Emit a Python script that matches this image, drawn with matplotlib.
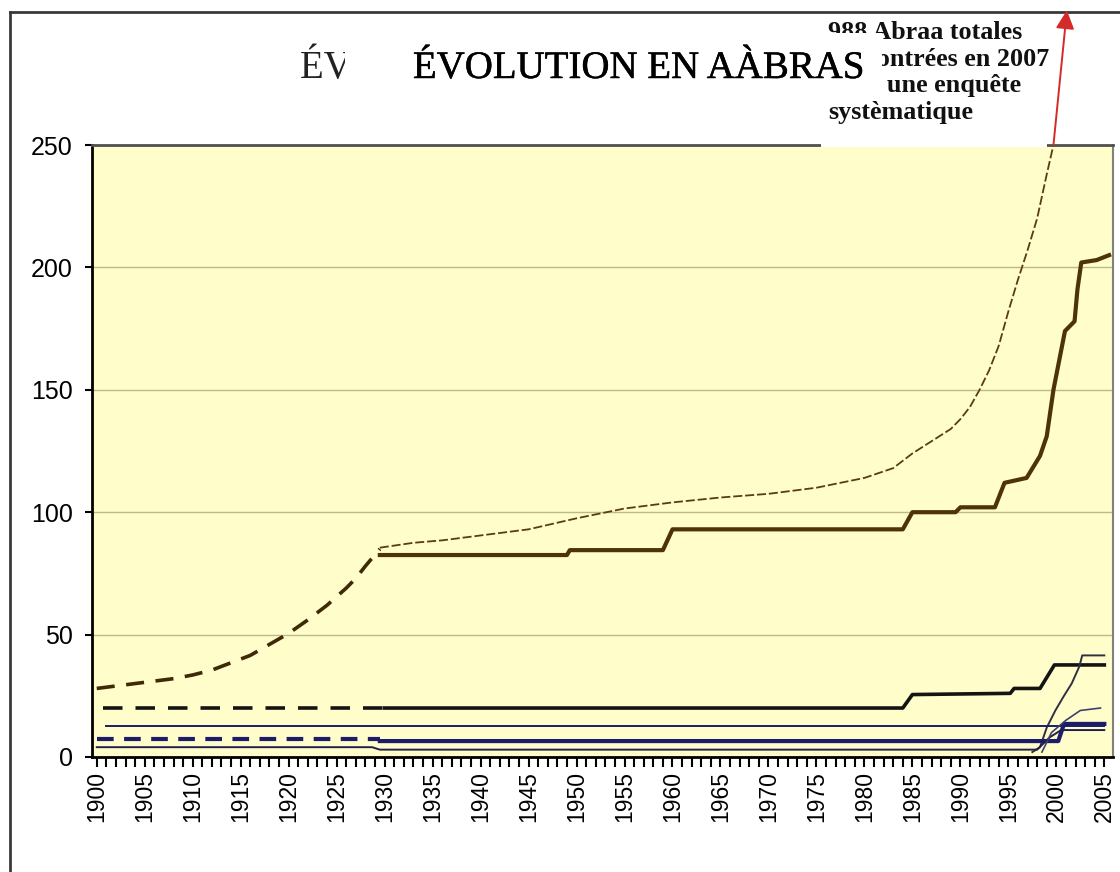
import matplotlib
matplotlib.use('Agg')
import matplotlib.pyplot as plt
from matplotlib.patches import Rectangle, FancyArrowPatch
from matplotlib.lines import Line2D
import matplotlib.patheffects as pe
import numpy as np

plt.rcParams['font.family'] = 'Liberation Sans'

# estimated total, thick dashed before 1930
est_years = [1900, 1902, 1904, 1906, 1908, 1910, 1912, 1914, 1916, 1918, 1920,
             1922, 1924, 1926, 1927, 1928, 1929.5]
est_values = [28, 29, 30, 31, 32, 33.5, 35.5, 38.5, 41.5, 46, 50.5,
              56, 62, 69, 73, 78, 85]

# estimated total after 1930, thin dashed
tot_years = [1929.5, 1933, 1936, 1940, 1945, 1950, 1955, 1960, 1965, 1970, 1975,
             1980, 1983, 1985, 1987, 1989, 1990, 1991, 1992, 1993, 1994, 1995,
             1996, 1997, 1998, 1999, 1999.7]
tot_values = [85.5, 87.5, 88.5, 90.5, 93, 97.5, 101.5, 104, 106, 107.5, 110,
              114, 118, 124, 129, 134, 138, 143, 150, 158, 168, 182,
              195, 207, 220, 238, 250]

# recorded abras (brown steps)
rec_years = [1929.5, 1949, 1949.3, 1959, 1960, 1984, 1985, 1989.5, 1990, 1993.6,
             1994.6, 1996.9, 1998.3, 1999, 1999.7, 2000.3, 2000.9, 2001.9,
             2002.2, 2002.6, 2004.2, 2005.5]
rec_values = [82.5, 82.5, 84.5, 84.5, 93, 93, 100, 100, 102, 102,
              112, 114, 123, 131, 150, 162, 174, 178,
              191, 202, 203, 205]

# black series
blk_dash_years = [1900.7, 1930]
blk_dash_values = [20, 20]
blk_years = [1930, 1984, 1985, 1995.2, 1995.6, 1998.3, 1999.8, 2005]
blk_values = [20, 20, 25.5, 26, 28, 28, 37.6, 37.6]

# thin dark line reaching ~42
dk_years = [1997.5, 1998.3, 1999.0, 1999.9, 2000.8, 2001.6, 2002.4, 2002.7, 2005]
dk_values = [2, 4, 12, 19, 25, 30, 37, 41.5, 41.5]

# navy thin flat line
nv1_years = [1901, 2005]
nv1_values = [12.7, 12.7]

# navy thick line
nv2_dash_years = [1900, 1929.5]
nv2_dash_values = [7.5, 7.5]
nv2_years = [1929.5, 2000.2, 2000.8, 2005]
nv2_values = [6.5, 6.5, 13.5, 13.5]

# lower navy lines
nv3_years = [1900, 1928.7, 1929.5, 1998, 1999.3, 2000.5, 2005]
nv3_values = [4, 4, 3, 3, 8, 11, 11]
nv4_years = [1998.5, 1999.5, 2001, 2002.5, 2004.6]
nv4_values = [2, 10, 15, 19, 20]

fig = plt.figure(figsize=(11.2, 8.72), dpi=100)
ax = fig.add_axes([0.0821, 0.1319, 0.9116, 0.7018])
ax.set_facecolor('#FFFDC9')

brown = '#4E3208'
navy = '#1C1C6A'

ax.plot(est_years, est_values, color='#3E2A08', lw=2.6, dashes=(5, 3.2))
ax.plot(tot_years, tot_values, color='#5A3C14', lw=1.3, dashes=(5, 1.6))
ax.plot(rec_years, rec_values, color=brown, lw=3)

ax.plot(blk_dash_years, blk_dash_values, color='#141414', lw=2.6, dashes=(5.4, 3.6))
ax.plot(blk_years, blk_values, color='#141414', lw=2.6)
ax.plot(dk_years, dk_values, color='#303040', lw=1.4)

ax.plot(nv1_years, nv1_values, color=navy, lw=1.4)
ax.plot(nv2_dash_years, nv2_dash_values, color=navy, lw=3, dashes=(4, 2.5))
ax.plot(nv2_years, nv2_values, color=navy, lw=3)
ax.plot(nv3_years, nv3_values, color='#202050', lw=1.4)
ax.plot(nv4_years, nv4_values, color='#404070', lw=1.2)

ax.set_xlim(1899.5, 2005.9)
ax.set_ylim(0, 250)
ax.set_xticks(np.arange(1900, 2006, 5))
ax.set_xticks(np.arange(1900, 2006, 1), minor=True)
ax.set_xticklabels([str(y) for y in range(1900, 2006, 5)], rotation=90, fontsize=16.5)
ax.set_yticks(np.arange(0, 251, 50))
ax.tick_params(axis='y', labelsize=18, length=5, width=1.5, pad=9, direction='out')
ax.tick_params(axis='x', which='both', length=7, width=1.5, pad=3, direction='out')

ax.grid(axis='y', color='#BDB98E', lw=1)
ax.set_axisbelow(True)
ax.spines['left'].set_linewidth(2)
ax.spines['bottom'].set_linewidth(2)
ax.spines['top'].set_color('#505050')
ax.spines['top'].set_linewidth(2)
ax.spines['right'].set_color('#808080')
ax.spines['right'].set_linewidth(1.5)

# outer frame
fig.add_artist(Line2D([10 / 1120, 1], [1 - 12 / 872, 1 - 12 / 872], color='#3A3A3A', lw=2))
fig.add_artist(Line2D([10 / 1120, 10 / 1120], [0, 1 - 12 / 872], color='#3A3A3A', lw=2))

heavy = [pe.withStroke(linewidth=0.35, foreground='black')]

# original title, partly hidden under the new one
fig.text(300 / 1120, 1 - 78 / 872, 'ÉVOLUTION EN ABRAS', family='Liberation Serif',
         fontsize=28, color='#222222', va='baseline', zorder=1)

# note box
fig.add_artist(Rectangle((821 / 1120, 1 - 147 / 872), 226 / 1120, 129 / 872,
                         transform=fig.transFigure, facecolor='white', edgecolor='none', zorder=2))
note_lines = ['988 Abraa totales', 'rencontrées en 2007', 'dans une enquête', 'systèmatique']
for i, line in enumerate(note_lines):
    fig.text(828 / 1120, 1 - (39 + 26.5 * i) / 872, line, family='Liberation Serif',
             fontweight='bold', fontsize=18.8, color='#111111', va='baseline', zorder=3)

# title box
fig.add_artist(Rectangle((345 / 1120, 1 - 97 / 872), 537 / 1120, 64 / 872,
                         transform=fig.transFigure, facecolor='white', edgecolor='none', zorder=4))
fig.text(638.5 / 1120, 1 - 78 / 872, 'ÉVOLUTION EN AÀBRAS', family='Liberation Serif',
         fontsize=28, color='black', ha='center', va='baseline', zorder=5,
         path_effects=heavy)

# arrow out of the chart towards the 988 total
arrow = FancyArrowPatch((1999.7, 250), (2001.1, 305), transform=ax.transData,
                        arrowstyle='-|>', mutation_scale=28, color='#D42A2A', lw=1.4,
                        shrinkA=0, shrinkB=0, zorder=6)
fig.add_artist(arrow)

fig.savefig('out.png', dpi=100)
